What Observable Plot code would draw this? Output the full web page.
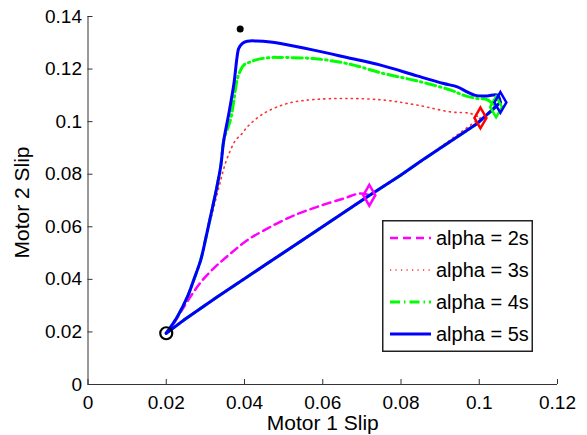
<!DOCTYPE html>
<html>
<head>
<meta charset="utf-8">
<script src="https://cdn.jsdelivr.net/npm/d3@7"></script>
<script src="https://cdn.jsdelivr.net/npm/@observablehq/plot@0.6"></script>
<style>
  body { margin: 0; background: #fff; }
  #wrap { position: relative; width: 587px; height: 435px; font-family: "Liberation Sans", Arial, Helvetica, sans-serif; }
  #legend { position: absolute; left: 382px; top: 220px; }
</style>
</head>
<body>
<div id="wrap"></div>
<script>
// Series styling (MATLAB-like line specs)
const seriesNames = ["alpha = 2s", "alpha = 3s", "alpha = 4s", "alpha = 5s"];
const seriesColors = ["#ff00ff", "#ff3030", "#00ff00", "#0000ff"];
const seriesDash = ["8,5", "1.2,4.3", "10,4,1.5,4", null];
const seriesWidth = [2.5, 1.6, 3, 3];

// Axis ticks
const xTicks = [0, 0.02, 0.04, 0.06, 0.08, 0.1, 0.12];
const yTicks = [0, 0.02, 0.04, 0.06, 0.08, 0.1, 0.12, 0.14];

// Common starting point and the marked peak
const startX = 0.02, startY = 0.0195;
const peakX = 0.0389, peakY = 0.1352;

// Outbound trajectories (motor 1 slip, motor 2 slip)
const out2sX = [0.0219, 0.0245, 0.0270, 0.0296, 0.0330, 0.0364, 0.0407, 0.0458, 0.0518, 0.0586, 0.0654, 0.0696];
const out2sY = [0.0232, 0.0295, 0.0352, 0.0403, 0.0454, 0.0498, 0.0549, 0.0593, 0.0638, 0.0676, 0.0708, 0.0727];

const out3sX = [0.0228, 0.0254, 0.0270, 0.0288, 0.0300, 0.0309, 0.0322, 0.0339, 0.0351, 0.0364, 0.0377, 0.0394, 0.0407, 0.0449, 0.0509, 0.0577, 0.0662, 0.0756, 0.0841, 0.0927, 0.0978];
const out3sY = [0.0257, 0.0333, 0.0397, 0.0473, 0.0549, 0.0600, 0.0676, 0.0776, 0.0841, 0.0891, 0.0929, 0.0955, 0.0980, 0.1031, 0.1069, 0.1084, 0.1088, 0.1082, 0.1063, 0.1037, 0.1031];

const out4sX = [0.0228, 0.0254, 0.0270, 0.0288, 0.0300, 0.0313, 0.0326, 0.0339, 0.0347, 0.0364, 0.0373, 0.0381, 0.0390, 0.0398, 0.0415, 0.0432, 0.0466, 0.0492, 0.0577, 0.0662, 0.0756, 0.0841, 0.0927, 0.0961, 0.0995, 0.1020];
const out4sY = [0.0257, 0.0333, 0.0397, 0.0473, 0.0549, 0.0638, 0.0727, 0.0828, 0.0929, 0.1006, 0.1082, 0.1158, 0.1196, 0.1215, 0.1227, 0.1236, 0.1244, 0.1244, 0.1240, 0.1221, 0.1183, 0.1155, 0.1120, 0.1100, 0.1088, 0.1084];

const out5sX = [0.0228, 0.0254, 0.0270, 0.0288, 0.0300, 0.0313, 0.0326, 0.0339, 0.0347, 0.0360, 0.0373, 0.0381, 0.0385, 0.0394, 0.0407, 0.0432, 0.0466, 0.0492, 0.0577, 0.0662, 0.0748, 0.0841, 0.0909, 0.0944, 0.0969, 0.0990, 0.1020, 0.1046];
const out5sY = [0.0257, 0.0333, 0.0397, 0.0473, 0.0549, 0.0638, 0.0727, 0.0828, 0.0929, 0.1031, 0.1145, 0.1246, 0.1278, 0.1297, 0.1306, 0.1307, 0.1303, 0.1297, 0.1272, 0.1244, 0.1215, 0.1174, 0.1145, 0.1132, 0.1113, 0.1100, 0.1098, 0.1101];

// Turn-around points (diamond markers)
const turnX = [0.0719, 0.1003, 0.1043, 0.1054];
const turnY = [0.0720, 0.1014, 0.1056, 0.1073];

// Shared return path back towards the start
const backX = [0.0995, 0.0854, 0.0799, 0.0714, 0.0586, 0.0458, 0.0330, 0.0245];
const backY = [0.0993, 0.0853, 0.0796, 0.0714, 0.0587, 0.0460, 0.0333, 0.0245];

const outX = [out2sX, out3sX, out4sX, out5sX];
const outY = [out2sY, out3sY, out4sY, out5sY];

// Build point tables for each series
const outbound = [], inbound = [], turns = [];
seriesNames.forEach((name, i) => {
  outbound.push([{x: startX, y: startY}, ...outX[i].map((x, j) => ({x, y: outY[i][j]})), {x: turnX[i], y: turnY[i]}]);
  const back = backX.map((x, j) => ({x, y: backY[j]})).filter(d => d.x < turnX[i] - 0.003);
  inbound.push([{x: turnX[i], y: turnY[i]}, ...back, {x: startX, y: startY}]);
  turns.push({x: turnX[i], y: turnY[i]});
});

const font = '"Liberation Sans", Arial, Helvetica, sans-serif';
const axisColor = "#333";

const marks = [
  Plot.ruleX([0], {stroke: axisColor, strokeWidth: 1}),
  Plot.ruleY([0], {stroke: axisColor, strokeWidth: 1}),
  Plot.tickX(xTicks, {x: d => d, insetTop: 363, stroke: axisColor}),
  Plot.tickY(yTicks, {y: d => d, insetRight: 464.5, stroke: axisColor}),
  Plot.axisX({ticks: xTicks, tickSize: 0, tickPadding: 11, tickFormat: d => String(d), label: null, fontSize: 19}),
  Plot.axisY({ticks: yTicks, tickSize: 0, tickPadding: 6, tickFormat: d => String(d), label: null, fontSize: 19}),
  Plot.text(["Motor 1 Slip"], {frameAnchor: "bottom", textAnchor: "middle", lineAnchor: "middle", dy: 39, fontSize: 21}),
  Plot.text(["Motor 2 Slip"], {frameAnchor: "left", textAnchor: "middle", lineAnchor: "middle", rotate: -90, dx: -66, dy: 2, fontSize: 21})
];

seriesNames.forEach((name, i) => {
  const style = {x: "x", y: "y", stroke: seriesColors[i], strokeWidth: seriesWidth[i], strokeDasharray: seriesDash[i]};
  marks.push(Plot.line(outbound[i], {...style, curve: "catmull-rom"}));
  marks.push(Plot.line(inbound[i], {...style, curve: "linear"}));
});
seriesNames.forEach((name, i) => {
  marks.push(Plot.dot([turns[i]], {x: "x", y: "y", symbol: "diamond", r: 6.3, stroke: seriesColors[i] === "#ff3030" ? "#ff0000" : seriesColors[i], strokeWidth: 2.5, fill: "none"}));
});

marks.push(Plot.dot([{x: startX, y: startY}], {x: "x", y: "y", r: 6, stroke: "#000", strokeWidth: 2.2, fill: "none"}));
marks.push(Plot.dot([{x: peakX, y: peakY}], {x: "x", y: "y", r: 3.5, fill: "#000"}));

const chart = Plot.plot({
  width: 587,
  height: 435,
  marginLeft: 87.5,
  marginRight: 30,
  marginTop: 16,
  marginBottom: 51,
  style: {fontFamily: font, fontSize: "19px", background: "#fff", color: "#000", overflow: "visible"},
  x: {domain: [0, 0.12]},
  y: {domain: [0, 0.14]},
  marks
});

const wrap = document.getElementById("wrap");
wrap.appendChild(chart);

// Legend box
const lw = 151, lh = 132;
const legend = d3.select(wrap).append("svg")
  .attr("id", "legend")
  .attr("width", lw)
  .attr("height", lh);
legend.append("rect")
  .attr("x", 0.75).attr("y", 0.75)
  .attr("width", lw - 1.5).attr("height", lh - 1.5)
  .attr("fill", "#fff").attr("stroke", "#222").attr("stroke-width", 1.5);
const rows = legend.selectAll("g.row").data(seriesNames).join("g")
  .attr("class", "row")
  .attr("transform", (d, i) => `translate(0,${18 + i * 32})`);
rows.append("line")
  .attr("x1", 8).attr("x2", 49).attr("y1", 0).attr("y2", 0)
  .attr("stroke", (d, i) => seriesColors[i])
  .attr("stroke-width", (d, i) => seriesWidth[i])
  .attr("stroke-dasharray", (d, i) => seriesDash[i]);
rows.append("text")
  .attr("x", 54).attr("y", 0).attr("dy", "0.35em")
  .attr("font-family", font).attr("font-size", 20).attr("fill", "#000")
  .text(d => d);
</script>
</body>
</html>
